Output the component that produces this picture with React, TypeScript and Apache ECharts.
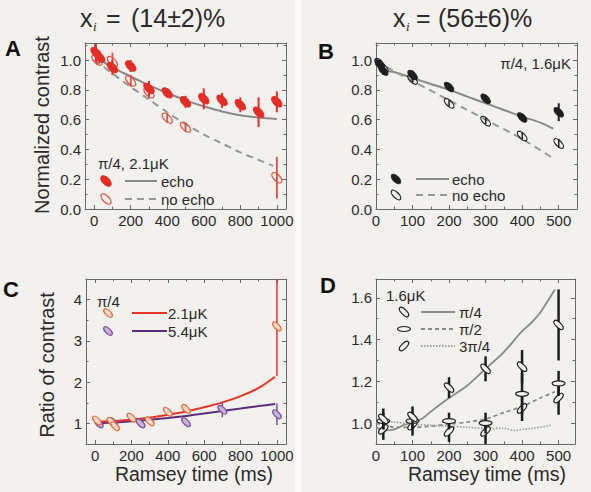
import React, { useEffect, useRef } from "react";
import * as echarts from "echarts";

const FONT = "'Liberation Sans', Arial, Helvetica, sans-serif";
const SERIF = "'Liberation Serif', 'DejaVu Serif', serif";
const AX = "#6a6a6a";
const TXT = "#2a2a2a";
const BG = "#f3f1ee";

// ---------- Panel A : x_i = 14%, pi/4, 2.1 uK ----------
const aEchoT = [10, 30, 100, 200, 300, 400, 500, 600, 700, 800, 900, 1000];
const aEchoV = [1.05, 1.02, 0.95, 0.96, 0.81, 0.78, 0.72, 0.74, 0.73, 0.7, 0.65, 0.72];
const aEchoE = [0.06, 0.04, 0.05, 0.04, 0.05, 0.03, 0.04, 0.07, 0.05, 0.05, 0.1, 0.07];
const aNoEchoT = [15, 100, 200, 300, 400, 500, 1000];
const aNoEchoV = [1.0, 0.99, 0.86, 0.78, 0.61, 0.55, 0.21];
const aNoEchoE = [0.03, 0.06, 0.04, 0.04, 0.03, 0.03, 0.14];
const aFitT = [0, 50, 100, 150, 200, 250, 300, 400, 500, 600, 700, 800, 900, 1000];
const aEchoFit = [1.04, 0.99, 0.95, 0.92, 0.89, 0.86, 0.83, 0.78, 0.73, 0.69, 0.655, 0.63, 0.615, 0.605];
const aNoEchoFitT = [0, 100, 200, 300, 400, 500, 600, 700, 800, 900, 980];
const aNoEchoFit = [1.0, 0.91, 0.82, 0.735, 0.65, 0.57, 0.5, 0.44, 0.38, 0.33, 0.29];

// ---------- Panel B : x_i = 56%, pi/4, 1.6 uK ----------
const bEchoT = [10, 20, 100, 200, 300, 400, 500];
const bEchoV = [0.97, 0.93, 0.9, 0.82, 0.74, 0.615, 0.65];
const bEchoE = [0.03, 0.03, 0.03, 0.02, 0.02, 0.02, 0.06];
const bNoEchoT = [10, 20, 100, 200, 300, 400, 500];
const bNoEchoV = [0.98, 0.95, 0.87, 0.71, 0.59, 0.49, 0.44];
const bNoEchoE = [0.02, 0.02, 0.02, 0.02, 0.02, 0.02, 0.03];
const bFitT = [0, 25, 50, 100, 150, 200, 250, 300, 350, 400, 450, 485];
const bEchoFit = [0.97, 0.93, 0.92, 0.88, 0.84, 0.8, 0.755, 0.71, 0.665, 0.62, 0.58, 0.54];
const bNoEchoFitT = [0, 100, 200, 300, 400, 485];
const bNoEchoFit = [0.99, 0.86, 0.73, 0.6, 0.47, 0.34];

// ---------- Panel C : ratio of contrast ----------
const c21T = [10, 90, 110, 200, 300, 400, 500, 1000];
const c21V = [1.07, 1.04, 0.93, 1.14, 1.05, 1.28, 1.35, 3.35];
const c21E = [0.06, 0.06, 0.08, 0.06, 0.06, 0.08, 0.1, 1.2];
const c54T = [20, 100, 250, 500, 700, 1000];
const c54V = [1.0, 1.03, 1.0, 1.03, 1.33, 1.22];
const c54E = [0.06, 0.06, 0.06, 0.08, 0.18, 0.26];
const cFitT = [0, 100, 200, 300, 400, 500, 600, 700, 800, 900, 990];
const cFit21 = [1.04, 1.06, 1.09, 1.14, 1.21, 1.29, 1.39, 1.51, 1.66, 1.86, 2.13];
const cFit54 = [1.0, 1.02, 1.05, 1.09, 1.13, 1.18, 1.24, 1.3, 1.36, 1.42, 1.47];

// ---------- Panel D : 1.6 uK, three angles ----------
const dT = [20, 100, 200, 300, 400, 500];
const d45V = [1.02, 1.03, 1.17, 1.26, 1.27, 1.47];
const d45E = [0.05, 0.05, 0.05, 0.06, 0.08, 0.17];
const d90V = [1.01, 1.01, 1.01, 1.0, 1.14, 1.19];
const d90E = [0.04, 0.04, 0.04, 0.05, 0.1, 0.06];
const d135V = [0.97, 0.99, 0.96, 0.96, 1.07, 1.12];
const d135E = [0.05, 0.05, 0.05, 0.06, 0.06, 0.08];
const dFit45T = [0, 25, 50, 75, 100, 125, 150, 200, 250, 300, 350, 400, 425, 450, 490];
const dFit45 = [0.98, 0.965, 0.97, 0.99, 1.005, 1.02, 1.055, 1.12, 1.18, 1.26, 1.34, 1.44, 1.48, 1.53, 1.64];
const dFit90T = [0, 50, 100, 150, 200, 250, 300, 350, 400, 450, 490];
const dFit90 = [1.0, 0.98, 0.98, 0.985, 0.995, 1.005, 1.02, 1.05, 1.08, 1.12, 1.15];
const dFit135T = [0, 50, 100, 150, 200, 250, 300, 350, 380, 400, 430, 480];
const dFit135 = [1.01, 1.005, 0.995, 0.99, 0.985, 0.98, 0.975, 0.975, 0.965, 0.97, 0.975, 0.99];

// tick specs
const xTicksA = [0, 200, 400, 600, 800, 1000];
const xMinorA = [100, 300, 500, 700, 900];
const yTicksA = [0, 0.2, 0.4, 0.6, 0.8, 1.0];
const yMinorA = [0.1, 0.3, 0.5, 0.7, 0.9, 1.1];
const xTicksB = [0, 100, 200, 300, 400, 500];
const xMinorB = [50, 150, 250, 350, 450];
const yTicksC = [1, 2, 3, 4];
const yMinorC = [1.5, 2.5, 3.5];
const yTicksD = [1.0, 1.2, 1.4, 1.6];
const yMinorD = [1.1, 1.3, 1.5];

const GRIDS = [
  { left: 85, top: 43, width: 201, height: 166 },
  { left: 376, top: 43, width: 201, height: 166 },
  { left: 86, top: 279, width: 200, height: 165 },
  { left: 376, top: 279, width: 199, height: 165 },
];

type Spec = { min: number; max: number; major: number[]; minor: number[]; fmt: (v: number) => string };

function makeAxes(dim: "x" | "y", gi: number, s: Spec) {
  const posMain = dim === "x" ? "bottom" : "left";
  const posOpp = dim === "x" ? "top" : "right";
  const base = { type: "value", gridIndex: gi, min: s.min, max: s.max, splitLine: { show: false } };
  const tick = (vals: number[], len: number) => ({
    show: true, inside: true, length: len, customValues: vals, lineStyle: { color: AX, width: 1 },
  });
  const line = { show: true, onZero: false, lineStyle: { color: AX, width: 1 } };
  return [
    {
      ...base, position: posMain, axisLine: line, axisTick: tick(s.major, 4),
      axisLabel: {
        show: true, customValues: s.major, formatter: s.fmt, color: TXT, fontSize: 15,
        fontFamily: FONT, margin: 4, lineHeight: 15,
      },
    },
    { ...base, position: posMain, axisLine: { show: false, onZero: false }, axisTick: tick(s.minor, 2.5), axisLabel: { show: false } },
    { ...base, position: posOpp, axisLine: line, axisTick: tick(s.major, 4), axisLabel: { show: false } },
    { ...base, position: posOpp, axisLine: { show: false, onZero: false }, axisTick: tick(s.minor, 2.5), axisLabel: { show: false } },
  ];
}

const f1 = (v: number) => v.toFixed(1);
const f0 = (v: number) => String(Math.round(v));

const AXES = [
  { x: { min: -50, max: 1050, major: xTicksA, minor: xMinorA, fmt: f0 }, y: { min: 0, max: 1.115, major: yTicksA, minor: yMinorA, fmt: f1 } },
  { x: { min: 0, max: 550, major: xTicksB, minor: xMinorB, fmt: f0 }, y: { min: 0, max: 1.115, major: yTicksA, minor: yMinorA, fmt: f1 } },
  { x: { min: -50, max: 1050, major: xTicksA, minor: xMinorA, fmt: f0 }, y: { min: 0.5, max: 4.5, major: yTicksC, minor: yMinorC, fmt: f0 } },
  { x: { min: 0, max: 545, major: xTicksB, minor: xMinorB, fmt: f0 }, y: { min: 0.9, max: 1.69, major: yTicksD, minor: yMinorD, fmt: f1 } },
];

const ROT_BACK = -Math.PI / 4; // "\" orientation
const ROT_FWD = Math.PI / 4; // "/" orientation

type PtOpt = { color: string; fill: string; rot: number; rx: number; ry: number; bar: string; barW: number; lw: number; ymax: number };

function pointsSeries(gi: number, ts: number[], vs: number[], es: number[], o: PtOpt) {
  return {
    type: "custom",
    xAxisIndex: gi * 4,
    yAxisIndex: gi * 4,
    encode: { x: 0, y: 1 },
    silent: true,
    z: 5,
    data: ts.map((t, i) => [t, vs[i], es[i]]),
    renderItem: (_p: any, api: any) => {
      const t = api.value(0);
      const v = api.value(1);
      const e = api.value(2);
      const c = api.coord([t, v]);
      const top = api.coord([t, Math.min(v + e, o.ymax)]);
      const bot = api.coord([t, v - e]);
      return {
        type: "group",
        children: [
          { type: "line", shape: { x1: c[0], y1: top[1], x2: c[0], y2: bot[1] }, style: { stroke: o.bar, lineWidth: o.barW } },
          {
            type: "ellipse", x: c[0], y: c[1], rotation: o.rot,
            shape: { cx: 0, cy: 0, rx: o.rx, ry: o.ry },
            style: { fill: o.fill, stroke: o.color, lineWidth: o.lw },
          },
        ],
      };
    },
  };
}

function lineSeries(gi: number, ts: number[], vs: number[], color: string, width: number, dash: any, smooth: number) {
  return {
    type: "line",
    xAxisIndex: gi * 4,
    yAxisIndex: gi * 4,
    data: ts.map((t, i) => [t, vs[i]]),
    symbol: "none",
    showSymbol: false,
    smooth,
    silent: true,
    z: 3,
    lineStyle: { color, width, type: dash },
  };
}

const txt = (x: number, y: number, text: string, size: number, o: any = {}) => ({
  type: "text",
  x,
  y,
  rotation: o.rot || 0,
  z: 10,
  style: {
    text,
    fill: o.color || TXT,
    fontSize: size,
    fontFamily: o.family || FONT,
    fontWeight: o.weight || "normal",
    fontStyle: o.style || "normal",
    align: o.align || "left",
    verticalAlign: o.va || "middle",
  },
});
const ell = (x: number, y: number, rot: number, rx: number, ry: number, stroke: string, fill: string, lw = 1.2) => ({
  type: "ellipse", x, y, rotation: rot, z: 10,
  shape: { cx: 0, cy: 0, rx, ry },
  style: { fill, stroke, lineWidth: lw },
});
const seg = (x1: number, x2: number, y: number, stroke: string, w: number, dash?: number[]) => ({
  type: "line", z: 10,
  shape: { x1, y1: y, x2, y2: y },
  style: { stroke, lineWidth: w, lineDash: dash || null },
});

const RED = "#e52d27";
const RED_OPEN = "#e0503f";
const GRAY = "#8a8a8a";
const BLACK = "#1e1e1e";
const ORANGE = "#e46c3c";
const ORANGE_FILL = "#f6d8c8";
const C_RED = "#ea3326";
const PURPLE = "#7d4e9c";
const PURPLE_FILL = "#c9b3dc";
const PURPLE_LINE = "#5a2d7e";

export default function App() {
  const ref = useRef<HTMLDivElement>(null);
  useEffect(() => {
    if (!ref.current) return;
    const chart = echarts.init(ref.current, null, { renderer: "svg" });
    const xAxis: any[] = [];
    const yAxis: any[] = [];
    AXES.forEach((a, gi) => {
      xAxis.push(...makeAxes("x", gi, a.x));
      yAxis.push(...makeAxes("y", gi, a.y));
    });

    const series: any[] = [
      // A
      lineSeries(0, aFitT, aEchoFit, GRAY, 2, "solid", 0.3),
      lineSeries(0, aNoEchoFitT, aNoEchoFit, "#979797", 2, [7, 5], 0.3),
      pointsSeries(0, aNoEchoT, aNoEchoV, aNoEchoE, { color: RED_OPEN, fill: "none", rot: ROT_BACK, rx: 6.5, ry: 3.2, bar: RED_OPEN, barW: 1.8, lw: 1.2, ymax: 1.115 }),
      pointsSeries(0, aEchoT, aEchoV, aEchoE, { color: RED, fill: RED, rot: ROT_BACK, rx: 6.5, ry: 3.5, bar: RED, barW: 2, lw: 1, ymax: 1.115 }),
      // B
      lineSeries(1, bFitT, bEchoFit, GRAY, 2, "solid", 0.3),
      lineSeries(1, bNoEchoFitT, bNoEchoFit, "#979797", 2, [7, 5], 0.3),
      pointsSeries(1, bNoEchoT, bNoEchoV, bNoEchoE, { color: BLACK, fill: "none", rot: ROT_BACK, rx: 6.2, ry: 2.8, bar: BLACK, barW: 1.5, lw: 1.2, ymax: 1.115 }),
      pointsSeries(1, bEchoT, bEchoV, bEchoE, { color: BLACK, fill: BLACK, rot: ROT_BACK, rx: 6, ry: 3, bar: BLACK, barW: 2, lw: 1, ymax: 1.115 }),
      // C
      lineSeries(2, cFitT, cFit54, PURPLE_LINE, 2, "solid", 0.3),
      lineSeries(2, cFitT, cFit21, C_RED, 2, "solid", 0.3),
      pointsSeries(2, c54T, c54V, c54E, { color: PURPLE, fill: PURPLE_FILL, rot: ROT_BACK, rx: 5.5, ry: 2.6, bar: PURPLE, barW: 1.5, lw: 1.2, ymax: 4.5 }),
      pointsSeries(2, c21T, c21V, c21E, { color: ORANGE, fill: ORANGE_FILL, rot: ROT_BACK, rx: 5.5, ry: 2.6, bar: C_RED, barW: 1.5, lw: 1.2, ymax: 4.5 }),
      // D
      lineSeries(3, dFit45T, dFit45, GRAY, 1.8, "solid", 0.3),
      lineSeries(3, dFit90T, dFit90, GRAY, 1.8, [4, 3], 0.3),
      lineSeries(3, dFit135T, dFit135, "#a0a0a0", 1.8, [1.5, 1.5], 0.3),
      pointsSeries(3, dT, d135V, d135E, { color: BLACK, fill: BG, rot: ROT_FWD, rx: 6, ry: 2.6, bar: BLACK, barW: 2.5, lw: 1.2, ymax: 1.69 }),
      pointsSeries(3, dT, d90V, d90E, { color: BLACK, fill: BG, rot: 0, rx: 6.5, ry: 2.5, bar: BLACK, barW: 2.5, lw: 1.2, ymax: 1.69 }),
      pointsSeries(3, dT, d45V, d45E, { color: BLACK, fill: BG, rot: ROT_BACK, rx: 6, ry: 2.6, bar: BLACK, barW: 2.5, lw: 1.2, ymax: 1.69 }),
    ];

    const graphic: any[] = [
      { type: "rect", z: 0, shape: { x: 295, y: 0, width: 6, height: 492 }, style: { fill: "#fbfaf9" } },
      // titles
      txt(80, 18, "x", 25),
      txt(93, 26, "i", 13, { style: "italic", family: SERIF }),
      txt(106, 18, "=", 25),
      txt(131, 18, "(14±2)%", 25),
      txt(393, 18, "x", 25),
      txt(406, 26, "i", 13, { style: "italic", family: SERIF }),
      txt(416, 18, "=", 25),
      txt(438, 18, "(56±6)%", 25),
      // panel letters
      txt(13, 48, "A", 22, { weight: "bold", align: "center", color: "#111" }),
      txt(326, 51, "B", 22, { weight: "bold", align: "center", color: "#111" }),
      txt(11, 289, "C", 22, { weight: "bold", align: "center", color: "#111" }),
      txt(328, 285, "D", 22, { weight: "bold", align: "center", color: "#111" }),
      // axis names
      txt(42, 125, "Normalized contrast", 20, { rot: Math.PI / 2, align: "center" }),
      txt(47, 365, "Ratio of contrast", 20, { rot: Math.PI / 2, align: "center" }),
      txt(194, 474, "Ramsey time (ms)", 19.5, { align: "center" }),
      txt(487, 474, "Ramsey time (ms)", 19.5, { align: "center" }),
      // A legend
      txt(98, 163, "π/4, 2.1μK", 15),
      ell(106, 181, ROT_BACK, 6.5, 3.5, RED, RED, 1),
      seg(125, 157, 181, GRAY, 2),
      txt(161, 181, "echo", 15),
      ell(106, 199, ROT_BACK, 6.5, 3.2, RED_OPEN, "none", 1.2),
      seg(125, 157, 199, "#979797", 2, [7, 5]),
      txt(161, 199, "no echo", 15),
      // B legend
      txt(571, 63, "π/4, 1.6μK", 15, { align: "right" }),
      ell(396, 179, ROT_BACK, 6, 3, BLACK, BLACK, 1),
      seg(416, 449, 179, GRAY, 2),
      txt(452, 179, "echo", 15),
      ell(396, 195, ROT_BACK, 6.2, 2.8, BLACK, "none", 1.2),
      seg(416, 449, 195, "#979797", 2, [7, 5]),
      txt(452, 195, "no echo", 15),
      // C legend
      txt(97, 301, "π/4", 15),
      ell(108, 313, ROT_BACK, 5.5, 2.6, ORANGE, ORANGE_FILL),
      seg(132, 167, 313, C_RED, 2),
      txt(168, 313, "2.1μK", 15),
      ell(108, 331, ROT_BACK, 5.5, 2.6, PURPLE, PURPLE_FILL),
      seg(132, 167, 331, PURPLE_LINE, 2),
      txt(168, 331, "5.4μK", 15),
      // D legend
      txt(386, 295, "1.6μK", 15),
      ell(404, 312, ROT_BACK, 6, 2.6, BLACK, "none"),
      seg(421, 455, 312, GRAY, 1.8),
      txt(459, 312, "π/4", 15),
      ell(404, 329, 0, 6.5, 2.5, BLACK, "none"),
      seg(421, 455, 329, GRAY, 1.8, [4, 3]),
      txt(459, 329, "π/2", 15),
      ell(404, 346, ROT_FWD, 6, 2.6, BLACK, "none"),
      seg(421, 455, 346, "#a0a0a0", 1.8, [1.5, 1.5]),
      txt(459, 346, "3π/4", 15),
    ];

    chart.setOption({
      animation: false,
      backgroundColor: BG,
      textStyle: { fontFamily: FONT },
      grid: GRIDS.map((g) => ({ ...g, containLabel: false, show: false })),
      xAxis,
      yAxis,
      series,
      graphic,
    });
    return () => chart.dispose();
  }, []);
  return (
    <div style={{ position: "fixed", left: 0, top: 0, width: 591, height: 492, background: BG }}>
      <div ref={ref} style={{ width: 591, height: 492 }} />
    </div>
  );
}
